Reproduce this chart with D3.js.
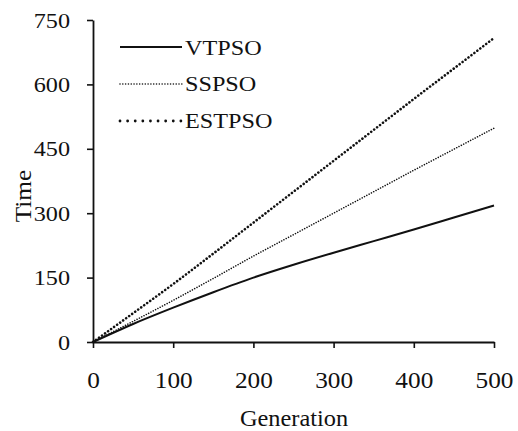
<!DOCTYPE html>
<html>
<head>
<meta charset="utf-8">
<script src="https://cdn.jsdelivr.net/npm/d3@7"></script>
<style>
  html, body { margin: 0; padding: 0; background: #fff; }
  svg { display: block; }
  text { font-family: "Liberation Serif", "Times New Roman", Times, serif; fill: #111; }
  .tick text { transform-box: fill-box; transform: scaleX(1.1); }
  .yaxis .tick text { transform-origin: right center; }
  .xaxis .tick text { transform-origin: center; }
</style>
</head>
<body>
<svg id="chart" width="518" height="431"></svg>
<script>
const generations = [0, 50, 100, 150, 200, 250, 300, 350, 400, 450, 500];
const vtpso  = [0, 42, 80, 116, 150, 180, 208, 235, 262, 290, 318];
const sspso  = [0, 48, 97, 148, 200, 250, 300, 350, 400, 449, 498];
const estpso = [0, 67, 135, 206, 278, 350, 422, 494, 566, 637, 708];
const xTicks = [0, 100, 200, 300, 400, 500];
const yTicks = [0, 150, 300, 450, 600, 750];
const seriesNames = ["VTPSO", "SSPSO", "ESTPSO"];

const svg = d3.select("#chart");
const x = d3.scaleLinear().domain([0, 500]).range([93, 494]);
const y = d3.scaleLinear().domain([0, 750]).range([342, 20]);

const styles = {
  VTPSO:  { width: 2, dash: null, cap: "butt", legendDash: null, legendWidth: 2.2 },
  SSPSO:  { width: 1.6, dash: "0.01,2.6", cap: "round", legendDash: "0.01,2.8", legendWidth: 1.6 },
  ESTPSO: { width: 2.6, dash: "0.01,3.7", cap: "round", legendDash: "0.01,7.6", legendWidth: 2.8 }
};
const seriesData = { VTPSO: vtpso, SSPSO: sspso, ESTPSO: estpso };

// axes
const yAxis = svg.append("g").attr("class", "yaxis")
  .attr("transform", `translate(${x(0)},0)`)
  .call(d3.axisLeft(y).tickValues(yTicks).tickSize(6).tickSizeOuter(0).tickPadding(17));
const xAxis = svg.append("g").attr("class", "xaxis")
  .attr("transform", `translate(0,${y(0)})`)
  .call(d3.axisBottom(x).tickValues(xTicks).tickSize(6).tickSizeOuter(0).tickPadding(24));

[yAxis, xAxis].forEach(g => {
  g.selectAll("path, line").attr("stroke", "#111").attr("stroke-width", 1.6);
  g.select(".domain").attr("stroke-width", 1.8);
});
yAxis.selectAll("text").attr("font-size", 22);
xAxis.selectAll("text").attr("font-size", 23);

// lines
const line = d3.line().x((d, i) => x(generations[i])).y(d => y(d)).curve(d3.curveMonotoneX);
seriesNames.forEach(name => {
  const s = styles[name];
  svg.append("path")
    .datum(seriesData[name])
    .attr("fill", "none")
    .attr("stroke", "#111")
    .attr("stroke-width", s.width)
    .attr("stroke-linecap", s.cap)
    .attr("stroke-dasharray", s.dash)
    .attr("d", line);
});

// legend
const legendY = [47, 84, 121];
const legendText = [55, 91, 128];
seriesNames.forEach((name, i) => {
  const s = styles[name];
  svg.append("line")
    .attr("x1", 120).attr("x2", 182)
    .attr("y1", legendY[i]).attr("y2", legendY[i])
    .attr("stroke", "#111")
    .attr("stroke-width", s.legendWidth)
    .attr("stroke-linecap", s.cap)
    .attr("stroke-dasharray", s.legendDash);
  svg.append("text")
    .attr("transform", `translate(185,${legendText[i]}) scale(1.1,1)`)
    .attr("font-size", 22)
    .text(name);
});

// axis titles
svg.append("text")
  .attr("transform", `translate(294,426) scale(1.06,1)`)
  .attr("text-anchor", "middle")
  .attr("font-size", 23)
  .text("Generation");
svg.append("text")
  .attr("transform", `translate(31,196) rotate(-90) scale(1.1,1)`)
  .attr("text-anchor", "middle")
  .attr("font-size", 23)
  .text("Time");
</script>
</body>
</html>
